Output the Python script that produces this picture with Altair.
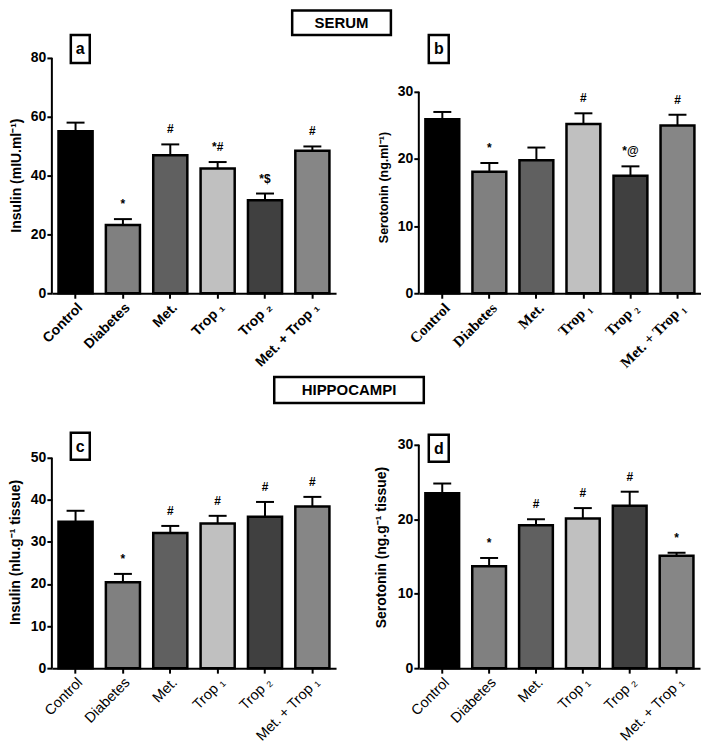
import altair as alt
import pandas as pd

SANS = "Liberation Sans, Arial, sans-serif"
SERIF = "Liberation Serif, Times New Roman, serif"

groups = ["Control", "Diabetes", "Met.", "Trop \u2081", "Trop \u2082", "Met. + Trop \u2081"]
bar_colors = ["#000000", "#808080", "#606060", "#c0c0c0", "#404040", "#868686"]

# (a) serum insulin
a_mean = [55.1, 23.2, 46.9, 42.4, 31.6, 48.4]
a_sem = [2.9, 2.0, 3.7, 2.2, 2.3, 1.5]
a_ann = ["", "*", "#", "*#", "*$", "#"]
a_ticks = [0, 20, 40, 60, 80]

# (b) serum serotonin
b_mean = [25.9, 18.1, 19.8, 25.2, 17.5, 25.0]
b_sem = [1.1, 1.3, 1.9, 1.6, 1.4, 1.6]
b_ann = ["", "*", "", "#", "*@", "#"]
b_ticks = [0, 10, 20, 30]

# (c) hippocampal insulin
c_mean = [34.8, 20.4, 32.1, 34.4, 36.0, 38.4]
c_sem = [2.6, 2.0, 1.7, 1.8, 3.5, 2.3]
c_ann = ["", "*", "#", "#", "#", "#"]
c_ticks = [0, 10, 20, 30, 40, 50]

# (d) hippocampal serotonin
d_mean = [23.5, 13.7, 19.2, 20.1, 21.8, 15.1]
d_sem = [1.3, 1.1, 0.8, 1.4, 1.9, 0.4]
d_ann = ["", "*", "#", "#", "#", "*"]
d_ticks = [0, 10, 20, 30]

one = pd.DataFrame({"k": [0]})


def box(x1, x2, y1, y2, label, size):
    r = alt.Chart(one).mark_rect(fill="white", stroke="black", strokeWidth=2.5).encode(
        x=alt.value(x1), x2=alt.value(x2), y=alt.value(y1), y2=alt.value(y2))
    t = alt.Chart(one).mark_text(font=SANS, fontWeight="bold", fontSize=size, color="black",
                                 align="center", baseline="middle").encode(
        x=alt.value((x1 + x2) / 2), y=alt.value((y1 + y2) / 2 + 0.5), text=alt.value(label))
    return [r, t]


def panel(mean, sem, ann, ticks, width, height, ymax, ytitle, tx, ty, tsize,
          lab_font, lab_weight, lab_size, letter, lbox, header=None, anchor=False):
    df = pd.DataFrame({"group": groups, "mean": mean,
                       "upper": [m + s for m, s in zip(mean, sem)], "ann": ann})
    xaxis = alt.Axis(labelAngle=315, labelFont=lab_font, labelFontWeight=lab_weight,
                     labelFontSize=lab_size, labelColor="black", tickSize=5, tickWidth=2,
                     tickColor="black", domainWidth=2, domainColor="black", labelPadding=2)
    x = alt.X("group:N", sort=groups, title=None,
              scale=alt.Scale(paddingInner=0.28, paddingOuter=0.14), axis=xaxis)
    yscale = alt.Scale(domain=[0, ymax], nice=False, zero=True)
    yaxis = alt.Axis(values=ticks, domain=False, grid=False, tickSize=5, tickWidth=2,
                     tickColor="black", labelFont=SANS, labelFontWeight="bold",
                     labelFontSize=14, labelColor="black", labelPadding=1, title=None)
    base = alt.Chart(df)
    err = base.mark_rule(color="black", strokeWidth=2).encode(
        x=x, y=alt.Y("mean:Q", scale=yscale, axis=yaxis, title=None), y2="upper:Q")
    bars = base.mark_bar(stroke="black", strokeWidth=2.5).encode(
        x=x, y=alt.Y("mean:Q", scale=yscale, axis=yaxis, title=None),
        color=alt.Color("group:N", scale=alt.Scale(domain=groups, range=bar_colors), legend=None))
    cap = base.mark_tick(color="black", size=18, thickness=2, opacity=1).encode(
        x=x, y=alt.Y("upper:Q", scale=yscale, axis=yaxis, title=None))
    txt = base.mark_text(font=SANS, fontWeight="bold", fontSize=12, color="black",
                         baseline="bottom", dy=-8).encode(
        x=x, y=alt.Y("upper:Q", scale=yscale, axis=yaxis, title=None), text="ann:N")
    ax_df = pd.DataFrame({"y0": [ticks[0]], "y1": [ticks[-1]]})
    yline = alt.Chart(ax_df).mark_rule(color="black", strokeWidth=2).encode(
        x=alt.value(0), y=alt.Y("y0:Q", scale=yscale, axis=yaxis, title=None), y2="y1:Q")
    title = alt.Chart(one).mark_text(font=SANS, fontWeight="bold", fontSize=tsize, color="black",
                                     angle=270, align="center", baseline="middle").encode(
        x=alt.value(tx), y=alt.value(ty), text=alt.value(ytitle))
    layers = [err, bars, cap, txt, yline, title]
    layers += box(lbox[0], lbox[1], lbox[2], lbox[3], letter, 16)
    if header is not None:
        layers += box(header[0], header[1], header[2], header[3], header[4], 15)
    if anchor:
        layers.append(alt.Chart(one).mark_rect(opacity=0).encode(
            x=alt.value(-44), x2=alt.value(-43), y=alt.value(-49), y2=alt.value(-48)))
    return alt.layer(*layers).properties(width=width, height=height)


pa = panel(a_mean, a_sem, a_ann, a_ticks, 285, 236, 80, "Insulin (mIU.ml\u207b\u00b9)", -35, 118, 14,
           SANS, "bold", 14, "a", (19, 38, -23, 5),
           header=(241, 340, -47.5, -23, "SERUM"), anchor=True)
pb = panel(b_mean, b_sem, b_ann, b_ticks, 283, 236, 30 * 236 / 202, "Serotonin (ng.ml\u207b\u00b9)",
           -35, 130, 12.5, SERIF, "bold", 15, "b", (10, 30, -23, 5))
pc = panel(c_mean, c_sem, c_ann, c_ticks, 285, 224, 50 * 224 / 211, "Insulin (nlu.g\u207b\u00b9 tissue)",
           -36, 108, 14, SANS, "normal", 14.5, "c", (19, 38, -12, 15),
           header=(223, 373, -68, -42, "HIPPOCAMPI"))
pd_ = panel(d_mean, d_sem, d_ann, d_ticks, 282, 224, 30, "Serotonin (ng.g\u207b\u00b9 tissue)",
            -37, 103, 14, SANS, "normal", 14.5, "d", (10, 30, -10, 17))

chart = alt.concat(pa, pb, pc, pd_, columns=2, spacing={"row": 152, "column": 83},
                   bounds="flush").properties(padding=0).configure_view(stroke=None)

chart.save("out.html", embed_options={"renderer": "svg", "actions": False})
